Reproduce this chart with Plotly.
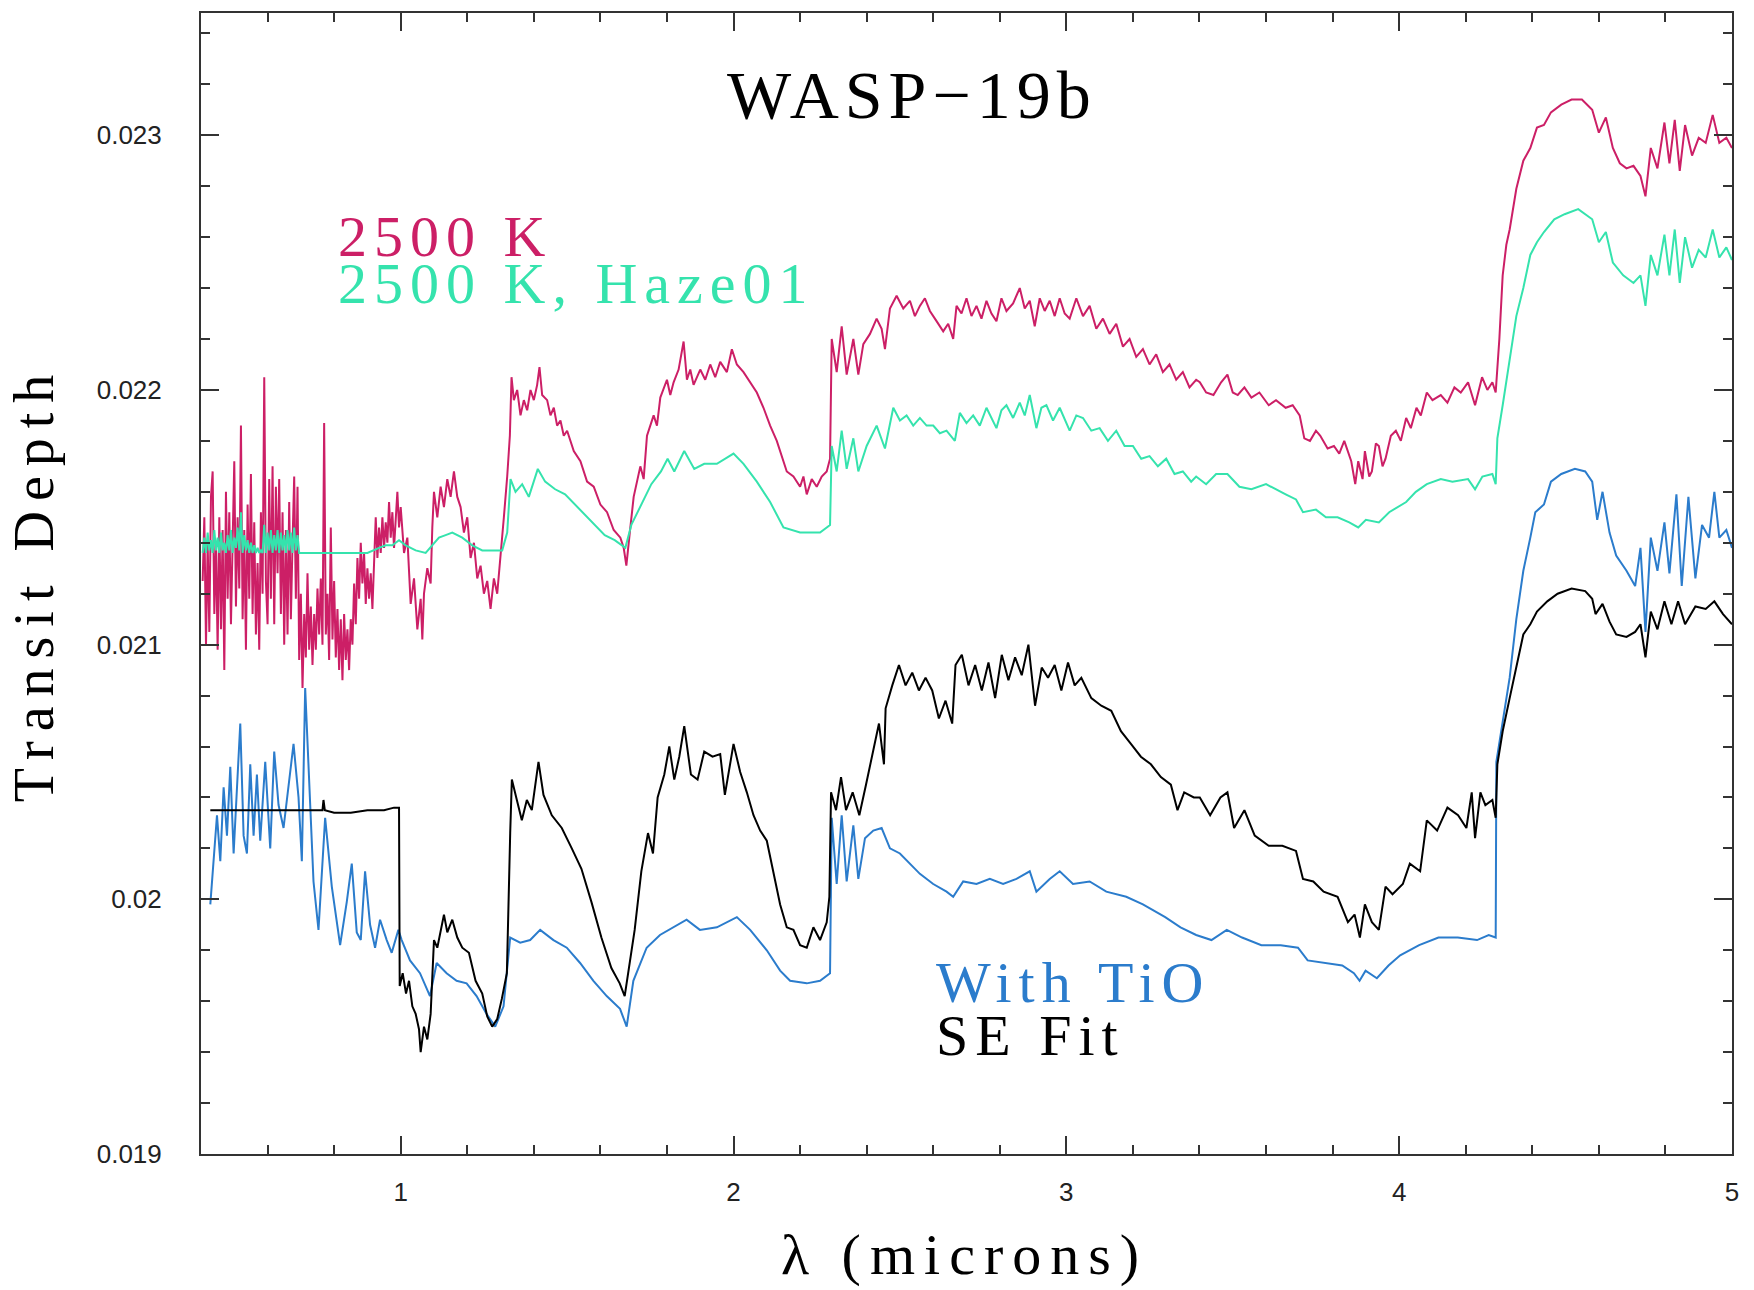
import plotly.graph_objects as go

# ---------------- data ----------------
# 2500 K (magenta)
M_X = [0.405,0.410,0.415,0.420,0.425,0.430,0.435,0.440,0.445,0.450,0.455,0.460,0.465,0.470,0.475,0.480,0.485,0.490,0.495,0.500,
       0.505,0.510,0.515,0.520,0.525,0.530,0.535,0.540,0.545,0.550,0.555,0.560,0.565,0.570,0.575,0.580,0.585,0.590,0.595,0.600,
       0.605,0.610,0.615,0.620,0.625,0.630,0.635,0.640,0.645,0.650,0.655,0.660,0.665,0.670,0.675,0.680,0.685,0.690,0.695,0.700,
       0.705,0.710,0.715,0.720,0.725,0.730,0.735,0.740,0.745,0.750,0.755,0.760,0.765,0.770,0.775,0.780,0.785,0.790,0.795,0.800,
       0.805,0.810,0.815,0.820,0.825,0.830,0.835,0.840,0.845,0.850,0.855,0.860,0.865,0.870,0.875,0.880,0.885,0.890,0.895,0.900,
       0.905,0.910,0.915,0.920,0.925,0.930,0.935,0.940,0.945,0.950,0.955,0.960,0.965,0.970,0.975,0.980,0.985,0.990,0.995,1.000,
       1.010,1.020,1.030,1.040,1.050,1.060,1.065,1.070,1.080,1.090,1.095,1.100,1.110,1.120,1.130,1.140,1.150,1.160,1.170,1.180,
       1.190,1.200,1.210,1.220,1.230,1.240,1.250,1.260,1.270,1.280,1.290,1.300,1.310,1.320,1.328,
       1.333,1.340,1.350,1.360,1.370,1.380,1.390,1.400,1.410,1.417,1.425,1.440,1.450,1.460,1.470,1.480,1.490,1.500,1.520,1.540,
       1.560,1.580,1.600,1.620,1.640,1.660,1.670,1.678,1.690,1.700,1.720,1.730,1.740,1.760,1.770,1.780,1.800,1.810,1.820,1.835,
       1.850,1.860,1.870,1.880,1.900,1.915,1.930,1.945,1.960,1.980,1.995,2.010,2.030,2.050,2.070,2.090,2.110,2.130,2.150,2.160,
       2.180,2.200,2.210,2.220,2.235,2.250,2.265,2.280,2.290,2.295,2.310,2.325,2.340,2.360,2.375,2.390,2.410,2.430,2.445,2.455,
       2.470,2.490,2.510,2.530,2.545,2.560,2.575,2.590,2.610,2.630,2.645,2.660,2.670,2.685,2.700,2.715,2.730,2.745,2.760,2.775,
       2.790,2.805,2.820,2.840,2.860,2.875,2.890,2.905,2.920,2.935,2.950,2.965,2.980,2.995,
       3.010,3.030,3.050,3.070,3.090,3.110,3.130,3.150,3.170,3.190,3.210,3.230,3.250,3.270,3.290,3.310,3.330,3.350,3.370,3.390,
       3.401,3.420,3.442,3.465,3.484,3.500,3.515,3.535,3.556,3.580,3.608,3.630,3.659,3.680,3.701,3.715,3.732,3.750,3.763,3.785,
       3.804,3.820,3.835,3.856,3.868,3.877,3.890,3.897,3.910,3.918,3.930,3.939,3.950,3.959,3.975,3.990,4.005,4.021,4.035,4.052,
       4.065,4.083,4.100,4.125,4.145,4.166,4.185,4.207,4.228,4.249,4.265,4.280,4.290,4.301,4.311,4.322,4.332,4.352,4.373,4.394,
       4.414,4.435,4.456,4.487,4.518,4.549,4.580,4.600,4.621,4.642,4.663,4.683,4.704,4.725,4.740,4.756,4.776,4.797,4.812,4.828,
       4.843,4.859,4.880,4.900,4.921,4.942,4.962,4.983,5.000]
M_Y = [0.02125,0.02150,0.02100,0.02140,0.02105,0.02158,0.02168,0.02112,0.02140,0.02098,0.02150,0.02106,0.02145,0.02090,0.02160,0.02118,0.02152,0.02108,0.02140,0.02172,
       0.02115,0.02150,0.02122,0.02186,0.02110,0.02145,0.02098,0.02155,0.02118,0.02167,0.02112,0.02148,0.02104,0.02132,0.02098,0.02152,0.02120,0.02205,0.02125,0.02108,
       0.02165,0.02118,0.02170,0.02108,0.02162,0.02128,0.02165,0.02112,0.02152,0.02100,0.02145,0.02104,0.02156,0.02110,0.02140,0.02166,0.02118,0.02162,0.02094,0.02120,
       0.02083,0.02112,0.02095,0.02128,0.02098,0.02115,0.02092,0.02112,0.02098,0.02122,0.02104,0.02126,0.02100,0.02187,0.02104,0.02120,0.02094,0.02146,0.02102,0.02125,
       0.02095,0.02114,0.02090,0.02110,0.02086,0.02112,0.02094,0.02106,0.02090,0.02110,0.02100,0.02124,0.02108,0.02134,0.02118,0.02140,0.02124,0.02136,0.02116,0.02130,
       0.02118,0.02128,0.02114,0.02132,0.02150,0.02134,0.02146,0.02136,0.02150,0.02138,0.02148,0.02140,0.02156,0.02142,0.02152,0.02138,0.02150,0.02160,0.02146,0.02154,
       0.02136,0.02142,0.02116,0.02126,0.02106,0.02118,0.02102,0.02120,0.02130,0.02124,0.02146,0.02160,0.02150,0.02162,0.02154,0.02165,0.02158,0.02168,0.02158,0.02154,
       0.02144,0.02150,0.02134,0.02140,0.02126,0.02131,0.02120,0.02125,0.02114,0.02126,0.02120,0.02134,0.02150,0.02166,0.02182,
       0.02205,0.02196,0.02200,0.02190,0.02196,0.02192,0.02200,0.02196,0.02202,0.02209,0.02198,0.02196,0.02190,0.02193,0.02186,0.02188,0.02182,0.02184,0.02176,0.02172,
       0.02164,0.02162,0.02155,0.02152,0.02145,0.02142,0.02138,0.02131,0.02146,0.02158,0.02170,0.02165,0.02182,0.02190,0.02186,0.02197,0.02204,0.02198,0.02203,0.02208,
       0.02219,0.02204,0.02208,0.02202,0.02208,0.02204,0.02210,0.02205,0.02211,0.02207,0.02216,0.02210,0.02207,0.02203,0.02199,0.02193,0.02186,0.02180,0.02172,0.02168,
       0.02166,0.02162,0.02166,0.02159,0.02165,0.02162,0.02166,0.02168,0.02173,0.02220,0.02207,0.02225,0.02206,0.02220,0.02206,0.02218,0.02222,0.02228,0.02224,0.02216,
       0.02232,0.02237,0.02232,0.02235,0.02229,0.02233,0.02236,0.02231,0.02227,0.02223,0.02226,0.02220,0.02233,0.02230,0.02236,0.02229,0.02233,0.02228,0.02235,0.02230,
       0.02227,0.02236,0.02231,0.02234,0.02240,0.02232,0.02235,0.02225,0.02236,0.02231,0.02235,0.02229,0.02236,0.02230,
       0.02228,0.02236,0.02229,0.02233,0.02224,0.02228,0.02222,0.02226,0.02217,0.02220,0.02213,0.02216,0.02210,0.02214,0.02207,0.02210,0.02204,0.02207,0.02201,0.02204,
       0.02203,0.02199,0.02198,0.02203,0.02206,0.02199,0.02198,0.02201,0.02197,0.02199,0.02194,0.02196,0.02193,0.02194,0.02190,0.02181,0.02180,0.02184,0.02182,0.02177,
       0.02178,0.02175,0.02180,0.02172,0.02163,0.02172,0.02165,0.02176,0.02166,0.02168,0.02179,0.02178,0.02170,0.02173,0.02182,0.02184,0.02180,0.02189,0.02185,0.02193,
       0.02190,0.02199,0.02196,0.02198,0.02195,0.02201,0.02199,0.02203,0.02194,0.02205,0.02200,0.02203,0.02199,0.02220,0.02245,0.02257,0.02263,0.02279,0.02290,0.02295,
       0.02303,0.02304,0.02309,0.02312,0.02314,0.02314,0.02310,0.02301,0.02307,0.02295,0.02289,0.02287,0.02288,0.02284,0.02276,0.02295,0.02287,0.02305,0.02289,0.02306,
       0.02286,0.02304,0.02292,0.02299,0.02297,0.02308,0.02297,0.02299,0.02295]

# 2500 K, Haze01 (green)
G_X = [0.405,0.410,0.415,0.420,0.425,0.430,0.435,0.440,0.445,0.450,0.455,0.460,0.465,0.470,0.475,0.480,0.485,0.490,0.495,0.500,
       0.505,0.510,0.515,0.520,0.525,0.530,0.535,0.540,0.545,0.550,0.555,0.560,0.565,0.570,0.575,0.580,0.585,0.590,0.595,0.600,
       0.605,0.610,0.615,0.620,0.625,0.630,0.635,0.640,0.645,0.650,0.655,0.660,0.665,0.670,0.675,0.680,0.685,0.690,0.695,0.700,
       0.800,0.900,0.935,0.955,0.975,0.995,1.015,1.045,1.075,1.095,1.115,1.135,1.155,1.185,1.215,1.245,1.275,1.305,1.320,1.330,
       1.345,1.365,1.385,1.412,1.434,1.464,1.494,1.523,1.553,1.583,1.613,1.643,1.663,1.675,1.693,1.723,1.753,1.782,1.802,1.822,
       1.852,1.882,1.912,1.950,2.000,2.030,2.070,2.110,2.150,2.200,2.230,2.260,2.290,2.295,2.310,2.325,2.340,2.360,2.375,2.400,
       2.430,2.455,2.480,2.500,2.520,2.540,2.560,2.580,2.600,2.620,2.640,2.665,2.680,2.700,2.720,2.740,2.760,2.790,2.805,2.820,
       2.840,2.860,2.875,2.890,2.910,2.925,2.940,2.960,2.980,3.010,3.030,3.050,3.075,3.100,3.125,3.150,3.175,3.200,3.225,3.250,
       3.275,3.300,3.325,3.350,3.375,3.390,3.420,3.450,3.484,3.520,3.556,3.600,3.659,3.690,3.711,3.750,3.780,3.815,3.850,3.877,
       3.900,3.939,3.970,4.021,4.050,4.083,4.125,4.160,4.207,4.228,4.250,4.280,4.290,4.295,4.311,4.332,4.352,4.373,4.394,4.414,
       4.435,4.466,4.497,4.538,4.580,4.600,4.621,4.642,4.673,4.704,4.725,4.740,4.756,4.776,4.797,4.812,4.828,4.843,4.859,4.880,
       4.900,4.921,4.942,4.962,4.983,5.000]
G_Y = [0.02136,0.02142,0.02136,0.02144,0.02137,0.02141,0.02136,0.02145,0.02137,0.02142,0.02136,0.02144,0.02137,0.02140,0.02136,0.02143,0.02137,0.02145,0.02136,0.02142,
       0.02138,0.02146,0.02137,0.02152,0.02136,0.02143,0.02137,0.02141,0.02136,0.02140,0.02136,0.02139,0.02136,0.02138,0.02136,0.02137,0.02136,0.02147,0.02136,0.02144,
       0.02137,0.02145,0.02136,0.02143,0.02137,0.02145,0.02136,0.02144,0.02137,0.02143,0.02136,0.02145,0.02137,0.02144,0.02136,0.02146,0.02137,0.02143,0.02136,0.02136,
       0.02136,0.02136,0.02138,0.02139,0.02139,0.02141,0.02139,0.02137,0.02136,0.02139,0.02142,0.02143,0.02144,0.02142,0.02139,0.02137,0.02137,0.02137,0.02144,0.02165,
       0.02160,0.02163,0.02158,0.02169,0.02164,0.02161,0.02159,0.02155,0.02151,0.02147,0.02143,0.02141,0.02139,0.02138,0.02147,0.02155,0.02163,0.02168,0.02173,0.02168,
       0.02176,0.02169,0.02171,0.02171,0.02175,0.02171,0.02164,0.02156,0.02146,0.02144,0.02144,0.02144,0.02147,0.02178,0.02168,0.02184,0.02169,0.02181,0.02168,0.02178,
       0.02186,0.02177,0.02193,0.02188,0.02190,0.02186,0.02189,0.02186,0.02186,0.02183,0.02184,0.02180,0.02191,0.02187,0.02190,0.02186,0.02193,0.02185,0.02192,0.02194,
       0.02189,0.02195,0.02190,0.02198,0.02185,0.02193,0.02194,0.02188,0.02193,0.02184,0.02190,0.02189,0.02184,0.02185,0.02180,0.02184,0.02178,0.02178,0.02173,0.02174,
       0.02170,0.02173,0.02167,0.02168,0.02164,0.02166,0.02163,0.02167,0.02167,0.02162,0.02161,0.02163,0.02159,0.02157,0.02152,0.02153,0.02150,0.02150,0.02148,0.02146,
       0.02149,0.02148,0.02152,0.02156,0.02160,0.02163,0.02165,0.02164,0.02165,0.02161,0.02166,0.02167,0.02163,0.02181,0.02194,0.02211,0.02229,0.02240,0.02253,0.02258,
       0.02262,0.02267,0.02269,0.02271,0.02267,0.02258,0.02262,0.02250,0.02245,0.02242,0.02245,0.02233,0.02253,0.02245,0.02261,0.02245,0.02263,0.02242,0.02260,0.02248,
       0.02255,0.02252,0.02263,0.02252,0.02256,0.02251]

# With TiO (blue)
B_X = [0.428,0.438,0.448,0.458,0.468,0.478,0.488,0.498,0.508,0.518,0.528,0.538,0.548,0.558,0.568,0.578,0.593,0.608,0.620,0.633,
       0.648,0.663,0.678,0.693,0.703,0.713,0.723,0.738,0.753,0.773,0.793,0.818,0.838,0.853,0.868,0.880,0.893,0.908,0.923,0.938,
       0.958,0.973,0.993,1.003,1.028,1.058,1.088,1.108,1.138,1.168,1.198,1.228,1.258,1.284,1.309,1.329,1.359,1.389,1.419,1.459,
       1.499,1.539,1.579,1.619,1.659,1.679,1.699,1.739,1.779,1.819,1.859,1.899,1.950,2.010,2.050,2.100,2.140,2.170,2.220,2.260,
       2.290,2.295,2.310,2.325,2.340,2.360,2.375,2.395,2.420,2.445,2.470,2.500,2.530,2.560,2.600,2.640,2.660,2.690,2.730,2.770,
       2.810,2.850,2.890,2.910,2.950,2.980,3.020,3.070,3.120,3.180,3.230,3.297,3.343,3.390,3.436,3.482,3.528,3.586,3.644,3.696,
       3.725,3.771,3.829,3.864,3.881,3.899,3.933,3.968,4.003,4.060,4.118,4.176,4.234,4.269,4.290,4.292,4.311,4.332,4.352,4.373,
       4.394,4.409,4.435,4.456,4.487,4.528,4.559,4.580,4.595,4.611,4.632,4.652,4.683,4.709,4.725,4.740,4.756,4.776,4.797,4.812,
       4.833,4.849,4.869,4.890,4.910,4.931,4.947,4.962,4.983,5.000]
B_Y = [0.01998,0.02014,0.02033,0.02015,0.02044,0.02025,0.02052,0.02018,0.02044,0.02069,0.02025,0.02018,0.02053,0.02025,0.02049,0.02023,0.02054,0.02020,0.02058,0.02037,
       0.02028,0.02044,0.02061,0.02040,0.02015,0.02083,0.02053,0.02007,0.01988,0.02032,0.02005,0.01982,0.01999,0.02014,0.01987,0.01984,0.02011,0.01990,0.01981,0.01992,
       0.01984,0.01979,0.01988,0.01984,0.01976,0.01971,0.01962,0.01975,0.01971,0.01968,0.01967,0.01962,0.01955,0.01950,0.01958,0.01985,0.01983,0.01984,0.01988,0.01984,
       0.01981,0.01975,0.01968,0.01962,0.01957,0.01950,0.01968,0.01981,0.01986,0.01989,0.01992,0.01988,0.01989,0.01993,0.01988,0.01980,0.01972,0.01968,0.01967,0.01968,
       0.01971,0.02032,0.02006,0.02033,0.02007,0.02029,0.02008,0.02024,0.02027,0.02028,0.02020,0.02018,0.02014,0.02010,0.02006,0.02003,0.02001,0.02007,0.02006,0.02008,
       0.02006,0.02008,0.02011,0.02003,0.02008,0.02011,0.02006,0.02007,0.02003,0.02001,0.01998,0.01993,0.01989,0.01986,0.01984,0.01988,0.01985,0.01982,0.01982,0.01981,
       0.01976,0.01975,0.01974,0.01971,0.01968,0.01972,0.01969,0.01974,0.01978,0.01982,0.01985,0.01985,0.01984,0.01986,0.01985,0.02054,0.02070,0.02087,0.02110,0.02129,
       0.02142,0.02152,0.02155,0.02164,0.02167,0.02169,0.02168,0.02164,0.02149,0.02160,0.02144,0.02135,0.02129,0.02123,0.02138,0.02105,0.02142,0.02129,0.02148,0.02128,
       0.02159,0.02123,0.02158,0.02126,0.02147,0.02142,0.02160,0.02142,0.02145,0.02138]

# SE Fit (black)
K_X = [0.428,0.500,0.600,0.700,0.765,0.768,0.772,0.800,0.850,0.900,0.950,0.980,0.995,0.997,1.006,1.016,1.025,1.035,1.045,1.055,
       1.060,1.070,1.080,1.090,1.100,1.110,1.120,1.130,1.140,1.155,1.170,1.185,1.205,1.225,1.245,1.260,1.275,1.290,1.304,1.319,
       1.329,1.334,1.349,1.364,1.379,1.394,1.414,1.429,1.454,1.484,1.514,1.543,1.573,1.603,1.633,1.658,1.673,1.683,1.703,1.723,
       1.743,1.758,1.772,1.792,1.807,1.822,1.837,1.852,1.872,1.892,1.912,1.937,1.960,1.974,2.000,2.020,2.040,2.060,2.080,2.100,
       2.120,2.140,2.160,2.180,2.200,2.220,2.240,2.260,2.280,2.288,2.293,2.308,2.323,2.338,2.358,2.378,2.398,2.417,2.437,2.452,
       2.457,2.477,2.497,2.517,2.537,2.557,2.577,2.597,2.617,2.637,2.657,2.667,2.686,2.706,2.726,2.746,2.766,2.786,2.806,2.826,
       2.846,2.866,2.886,2.906,2.926,2.945,2.965,2.985,3.005,3.025,3.045,3.075,3.105,3.135,3.164,3.194,3.224,3.254,3.284,3.314,
       3.334,3.354,3.383,3.401,3.432,3.463,3.484,3.504,3.535,3.566,3.608,3.649,3.690,3.711,3.742,3.773,3.815,3.846,3.866,3.882,
       3.897,3.918,3.939,3.959,3.980,4.011,4.032,4.063,4.083,4.114,4.145,4.177,4.202,4.218,4.228,4.244,4.259,4.280,4.290,4.295,
       4.311,4.332,4.352,4.373,4.394,4.414,4.445,4.476,4.518,4.559,4.580,4.590,4.611,4.632,4.652,4.683,4.709,4.725,4.740,4.756,
       4.776,4.797,4.818,4.838,4.859,4.890,4.921,4.947,4.973,5.000]
K_Y = [0.02035,0.02035,0.02035,0.02035,0.02035,0.02039,0.02035,0.02034,0.02034,0.02035,0.02035,0.02036,0.02036,0.01966,0.01971,0.01963,0.01968,0.01958,0.01955,0.01949,
       0.01940,0.01950,0.01945,0.01955,0.01984,0.01981,0.01987,0.01994,0.01987,0.01992,0.01985,0.01981,0.01979,0.01968,0.01963,0.01954,0.01950,0.01953,0.01961,0.01971,
       0.02026,0.02047,0.02039,0.02031,0.02039,0.02035,0.02054,0.02041,0.02033,0.02028,0.02020,0.02012,0.01999,0.01985,0.01973,0.01967,0.01962,0.01971,0.01988,0.02011,
       0.02026,0.02018,0.02040,0.02049,0.02060,0.02047,0.02056,0.02068,0.02049,0.02047,0.02058,0.02056,0.02057,0.02041,0.02061,0.02050,0.02042,0.02033,0.02027,0.02023,
       0.02010,0.01998,0.01989,0.01988,0.01982,0.01981,0.01989,0.01984,0.01991,0.02001,0.02042,0.02035,0.02048,0.02035,0.02042,0.02033,0.02045,0.02057,0.02069,0.02053,
       0.02075,0.02084,0.02092,0.02084,0.02089,0.02082,0.02087,0.02082,0.02071,0.02078,0.02069,0.02092,0.02096,0.02084,0.02092,0.02082,0.02093,0.02079,0.02096,0.02086,
       0.02095,0.02088,0.02100,0.02076,0.02091,0.02087,0.02092,0.02082,0.02093,0.02084,0.02087,0.02079,0.02076,0.02074,0.02066,0.02061,0.02056,0.02053,0.02048,0.02045,
       0.02035,0.02042,0.02040,0.02040,0.02033,0.02040,0.02042,0.02028,0.02035,0.02025,0.02021,0.02021,0.02019,0.02008,0.02007,0.02003,0.02001,0.01991,0.01994,0.01985,
       0.01998,0.01991,0.01988,0.02005,0.02002,0.02006,0.02014,0.02011,0.02031,0.02027,0.02036,0.02033,0.02028,0.02042,0.02024,0.02042,0.02037,0.02039,0.02032,0.02053,
       0.02066,0.02079,0.02091,0.02104,0.02108,0.02113,0.02117,0.02120,0.02122,0.02121,0.02118,0.02112,0.02116,0.02109,0.02104,0.02103,0.02105,0.02108,0.02095,0.02113,
       0.02106,0.02117,0.02108,0.02117,0.02108,0.02115,0.02114,0.02117,0.02112,0.02108]

SERIES_NAMES = ["2500 K", "2500 K, Haze01", "With TiO", "SE Fit"]
SERIES_COLORS = ["#cc1f66", "#35e3ad", "#2b7ccc", "#000000"]

X_TICK_VALS = [1, 2, 3, 4, 5]
X_TICK_TEXT = ["1", "2", "3", "4", "5"]
Y_TICK_VALS = [0.019, 0.020, 0.021, 0.022, 0.023]
Y_TICK_TEXT = ["0.019", "0.02", "0.021", "0.022", "0.023"]

TITLE = "WASP\u221219b"
X_TITLE = "\u03bb (microns)"
Y_TITLE = "Transit Depth"

for a, b in [(M_X, M_Y), (G_X, G_Y), (B_X, B_Y), (K_X, K_Y)]:
    assert len(a) == len(b), (len(a), len(b))

# ---------------- figure ----------------
fig = go.Figure()
for (xs, ys), name, col in zip([(M_X, M_Y), (G_X, G_Y), (B_X, B_Y), (K_X, K_Y)], SERIES_NAMES, SERIES_COLORS):
    fig.add_trace(go.Scatter(x=xs, y=ys, mode="lines", name=name,
                             line=dict(color=col, width=2), showlegend=False))

axis_common = dict(showline=True, linecolor="#333333", linewidth=2, mirror="ticks",
                   ticks="inside", ticklen=18, tickwidth=1.5, tickcolor="#333333",
                   showgrid=False, zeroline=False,
                   tickfont=dict(family="Liberation Sans, Arial, sans-serif", size=26, color="#222222"))

fig.update_xaxes(range=[0.4, 5.0], tickmode="array", tickvals=X_TICK_VALS, ticktext=X_TICK_TEXT,
                 minor=dict(tickmode="linear", tick0=0, dtick=0.2, ticks="inside", ticklen=9,
                            tickwidth=1.5, tickcolor="#333333", showgrid=False),
                 ticklabelstandoff=14, **axis_common)
fig.update_yaxes(range=[0.019, 0.02348], tickmode="array", tickvals=Y_TICK_VALS, ticktext=Y_TICK_TEXT,
                 minor=dict(tickmode="linear", tick0=0.019, dtick=0.0002, ticks="inside", ticklen=9,
                            tickwidth=1.5, tickcolor="#333333", showgrid=False),
                 ticklabelstandoff=32, **axis_common)

serif = "Liberation Serif, Times New Roman, serif"


def spaced(txt, px):
    return '<span style="letter-spacing:%dpx">%s</span>' % (px, txt)


ann = [
    dict(text=spaced(TITLE, 6), x=0.4644, y=0.9283, xanchor="center", yanchor="middle", font=dict(family=serif, size=68, color="#000000")),
    dict(text=spaced(SERIES_NAMES[0], 7), x=0.0882, y=0.804, xanchor="left", yanchor="middle", font=dict(family=serif, size=58, color=SERIES_COLORS[0])),
    dict(text=spaced(SERIES_NAMES[1], 7), x=0.0882, y=0.7625, xanchor="left", yanchor="middle", font=dict(family=serif, size=58, color=SERIES_COLORS[1])),
    dict(text=spaced(SERIES_NAMES[2], 7), x=0.4788, y=0.1505, xanchor="left", yanchor="middle", font=dict(family=serif, size=58, color=SERIES_COLORS[2])),
    dict(text=spaced(SERIES_NAMES[3], 7), x=0.4788, y=0.1041, xanchor="left", yanchor="middle", font=dict(family=serif, size=58, color=SERIES_COLORS[3])),
    dict(text=spaced(X_TITLE, 9), x=0.499, y=-0.0884, xanchor="center", yanchor="middle", font=dict(family=serif, size=58, color="#000000")),
    dict(text=spaced(Y_TITLE, 10), x=-0.109, y=0.5004, xanchor="center", yanchor="middle", textangle=-90, font=dict(family=serif, size=56, color="#000000")),
]
for a in ann:
    a.update(xref="paper", yref="paper", showarrow=False)

fig.update_layout(width=1754, height=1290, margin=dict(l=201, r=22, t=11, b=136),
                  paper_bgcolor="white", plot_bgcolor="white", annotations=ann)

fig.write_html("out.html")
